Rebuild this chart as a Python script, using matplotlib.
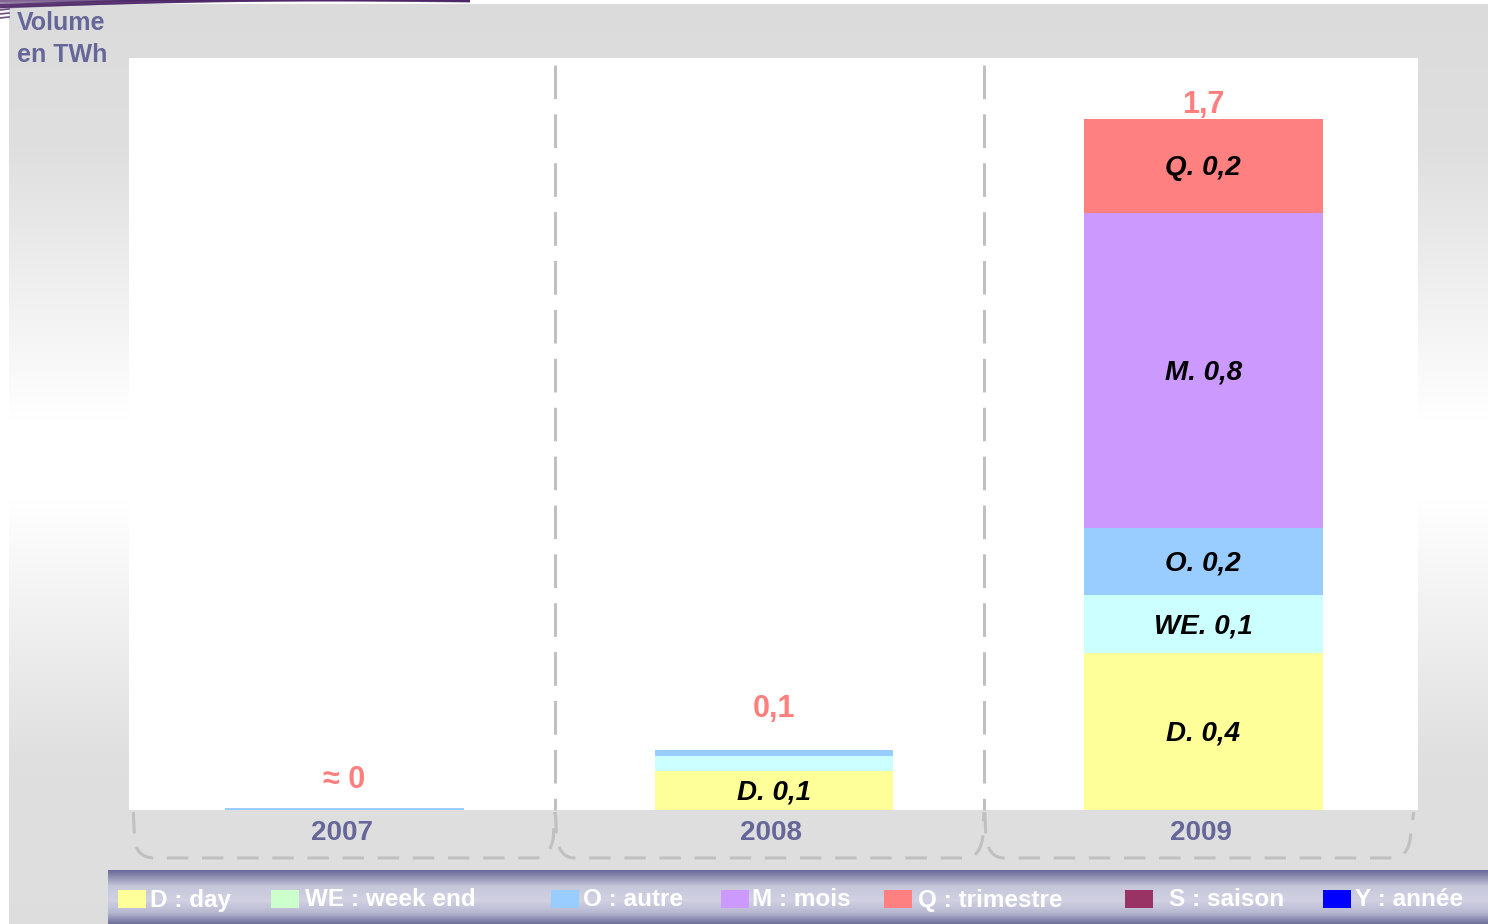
import numpy as np
import matplotlib.pyplot as plt
from matplotlib.patches import Rectangle, PathPatch
from matplotlib.path import Path

plt.rcParams['font.family'] = ['Liberation Sans', 'DejaVu Sans']

# data (TWh)
years = ['2007', '2008', '2009']
vol_d = [0.0, 0.096, 0.386]
vol_we = [0.0, 0.037, 0.143]
vol_o = [0.004, 0.015, 0.165]
vol_m = [0.0, 0.0, 0.775]
vol_q = [0.0, 0.0, 0.231]
lab_d = ['', 'D. 0,1', 'D. 0,4']
lab_we = ['', '', 'WE. 0,1']
lab_o = ['', '', 'O. 0,2']
lab_m = ['', '', 'M. 0,8']
lab_q = ['', '', 'Q. 0,2']
total_labels = ['\u2248 0', '0,1', '1,7']

legend_labels = ['D : day', 'WE : week end', 'O : autre', 'M : mois',
                 'Q : trimestre', 'S : saison', 'Y : ann\u00e9e']
legend_colors = ['#ffff99', '#ccffcc', '#99ccff', '#cc99ff',
                 '#ff8080', '#993366', '#0000ff']

W, H = 1488, 924
fig = plt.figure(figsize=(W / 100, H / 100), dpi=100)
fig.patch.set_facecolor('white')

# background layer in pixel coordinates
bg = fig.add_axes([0, 0, 1, 1], zorder=0)
bg.axis('off')

ys = np.arange(4, H)
g = np.interp(ys, [4, 150, 420, 500, 760, 924], [0.86, 0.875, 1.0, 1.0, 0.875, 0.87])
grad = np.stack([g, g, g], axis=1)[:, None, :]
bg.imshow(grad, extent=(9, W, H, 4), aspect='auto', interpolation='bilinear')

# legend bar
yb = np.arange(870, H)
r = np.interp(yb, [870, 886, 900, 912, 924], [0.42, 0.78, 0.82, 0.72, 0.42])
gg = np.interp(yb, [870, 886, 900, 912, 924], [0.42, 0.78, 0.82, 0.72, 0.42])
b = np.interp(yb, [870, 886, 900, 912, 924], [0.60, 0.86, 0.89, 0.82, 0.60])
bar_grad = np.stack([r, gg, b], axis=1)[:, None, :]
bg.imshow(bar_grad, extent=(108, W, H, 870), aspect='auto', interpolation='bilinear')

sq_x = [118, 271, 551, 721, 884, 1125, 1323]
tx_x = [150, 305, 583, 752, 918, 1169, 1355]
for lab, col, sx, tx in zip(legend_labels, legend_colors, sq_x, tx_x):
    bg.add_patch(Rectangle((sx, 890), 28, 18, facecolor=col, edgecolor='none'))
    bg.text(tx, 900, lab, color='white', fontsize=17.5, fontweight='bold',
            va='center', ha='left')

# top-left decoration (purple swoosh)
t = np.linspace(0, 1, 60)
for y0, y1, bend, lw, a in [(6, 0, 3, 3.0, 0.9), (3, 1, 2, 1.2, 0.6),
                            (8, 2, 4, 1.0, 0.5), (1, 0, 1, 1.5, 0.7)]:
    xs = 470 * t
    yy = y0 + (y1 - y0) * t - bend * np.sin(np.pi * t)
    bg.plot(xs, yy, color='#4b2466', lw=lw, alpha=a, solid_capstyle='butt')
for y0 in [10, 14, 18]:
    bg.plot([0, 9], [y0, y0 - 1], color='#4b2466', lw=1.2, alpha=0.8)
bg.set_xlim(0, W)
bg.set_ylim(H, 0)

bg.text(17, 23, 'Volume', color='#666699', fontsize=18, fontweight='bold', va='center')
bg.text(17, 55, 'en TWh', color='#666699', fontsize=18, fontweight='bold', va='center')

# main chart
ax = fig.add_axes([129 / W, 1 - 810 / H, (1418 - 129) / W, (810 - 58) / H], zorder=1)
ax.set_facecolor('white')
for s in ax.spines.values():
    s.set_visible(False)

x = np.arange(len(years))
width = 0.556
series = [(vol_d, lab_d, '#ffff99'), (vol_we, lab_we, '#ccffff'),
          (vol_o, lab_o, '#99ccff'), (vol_m, lab_m, '#cc99ff'),
          (vol_q, lab_q, '#ff8080')]
bottom = np.zeros(len(years))
for vals, labs, col in series:
    vals = np.array(vals)
    ax.bar(x, vals, width, bottom=bottom, color=col, edgecolor='none', zorder=2)
    for i, (v, txt) in enumerate(zip(vals, labs)):
        if txt:
            ax.text(x[i], bottom[i] + v / 2 - 0.005, txt, ha='center', va='center',
                    fontsize=20, fontweight='bold', fontstyle='italic', color='black', zorder=3)
    bottom = bottom + vals

label_offsets = [13, 26, -1]
for i, txt in enumerate(total_labels):
    ax.annotate(txt, (x[i], bottom[i]), xytext=(0, label_offsets[i] * 0.72),
                textcoords='offset points', ha='center', va='bottom',
                fontsize=22, fontweight='bold', color='#ff7f7f', zorder=3)

ax.set_xlim(-0.502, 2.5)
ax.set_ylim(0, 1.85)
ax.set_yticks([])
ax.set_xticks(x - 0.006)
ax.set_xticklabels(years, fontsize=20, fontweight='bold', color='#666699')
ax.tick_params(axis='x', length=0, pad=7)

# dashed separators between years
seps = [0.49, 1.49]
for sx in seps:
    ax.plot([sx, sx], [1.833, 0], color='#c0c0c0', lw=2.2,
            linestyle=(0, (11, 5)), clip_on=False, zorder=1)

# dashed brackets under each year, meeting in a point under each separator
ytip, ybot = -0.07, -0.118
edges = [-0.492] + seps + [2.49]
for i in range(len(years)):
    x0, x1 = edges[i], edges[i + 1]
    if i == 0:
        left = [(x0, -0.005), (x0 + 0.003, ytip), (x0 + 0.006, ybot), (x0 + 0.05, ybot)]
    else:
        left = [(x0 + 0.001, -0.005), (x0 + 0.004, ytip), (x0 + 0.012, ybot), (x0 + 0.045, ybot)]
    if i == len(years) - 1:
        right = [(x1 - 0.05, ybot), (x1 - 0.015, ybot), (x1 - 0.008, ytip), (x1, -0.005)]
    else:
        right = [(x1 - 0.045, ybot), (x1 - 0.012, ybot), (x1 - 0.004, ytip), (x1 - 0.001, -0.005)]
    verts = left + right
    codes = [Path.MOVETO, Path.LINETO, Path.CURVE3, Path.CURVE3,
             Path.LINETO, Path.CURVE3, Path.CURVE3, Path.LINETO]
    ax.add_patch(PathPatch(Path(verts, codes), facecolor='none', edgecolor='#c0c0c0',
                           lw=2.2, linestyle=(0, (7, 4.5)), clip_on=False, zorder=1))

fig.savefig('out.png', dpi=100)
